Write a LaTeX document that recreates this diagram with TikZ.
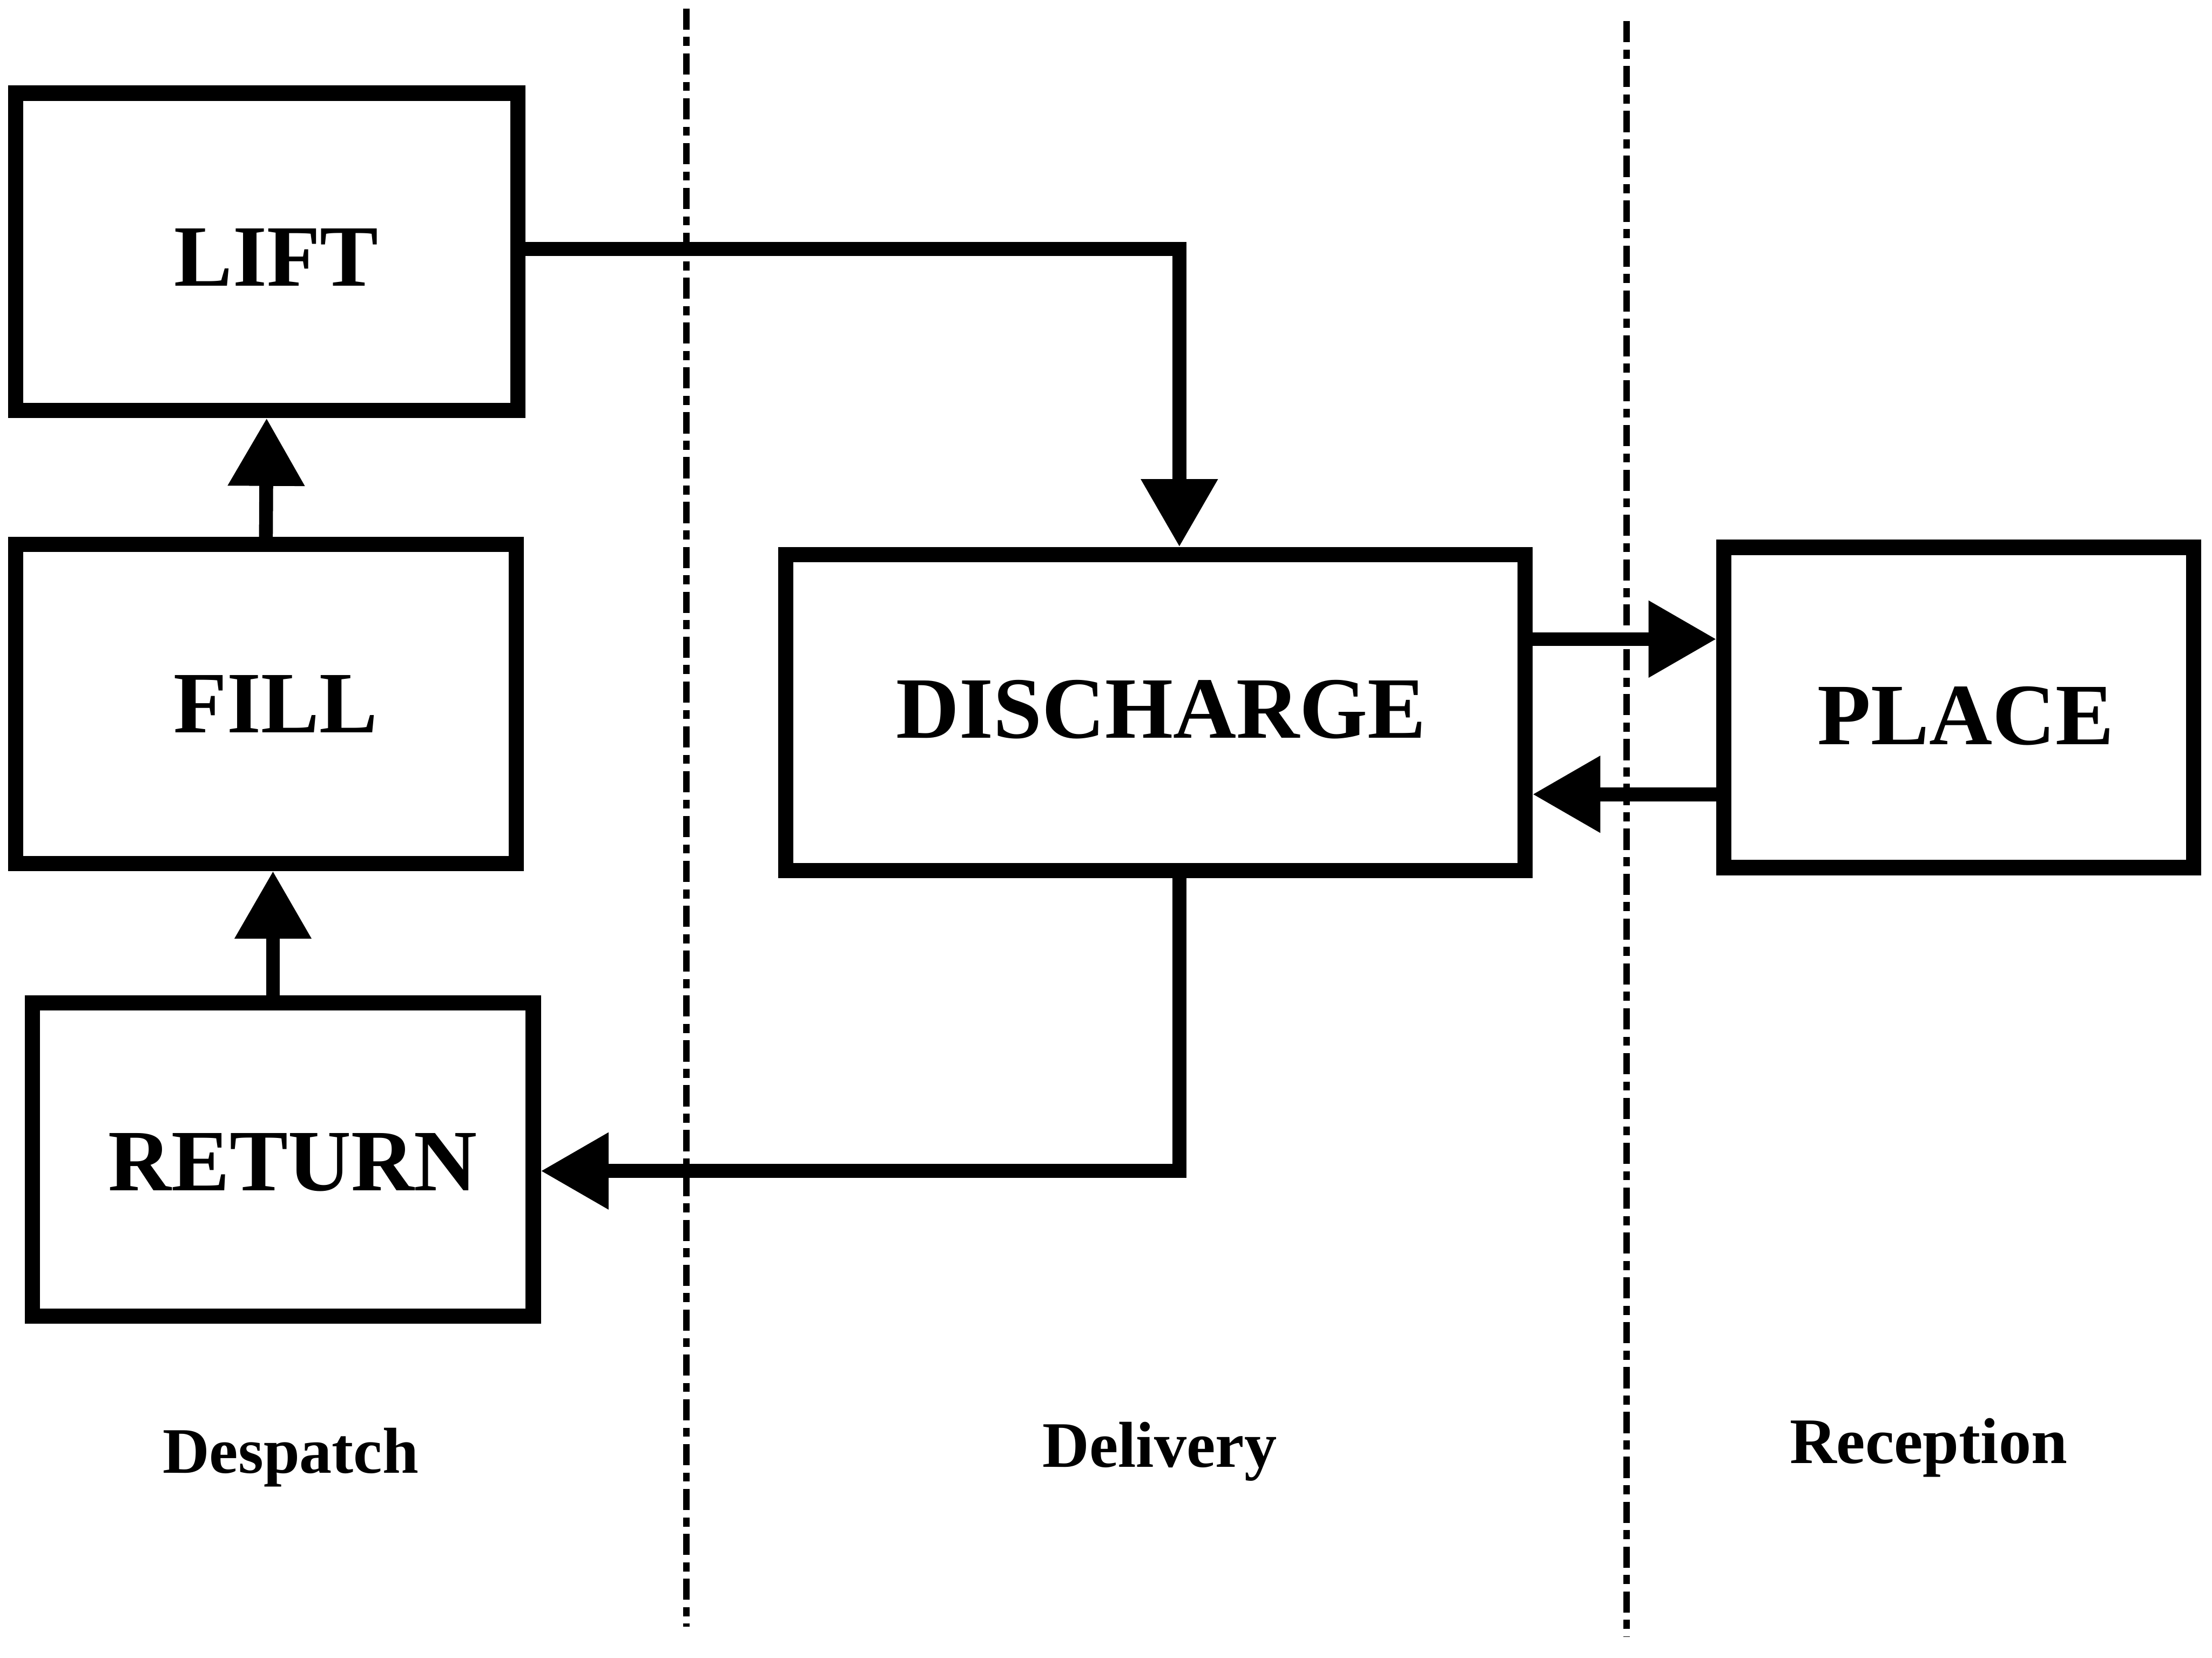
\documentclass[tikz,border=0pt]{standalone}
\usepackage{fontspec}
\setmainfont{Liberation Serif}
\usetikzlibrary{arrows.meta,calc}
\begin{document}
\begin{tikzpicture}[x=0.5pt,y=-0.5pt,
  stage/.style={draw,line width=5.4pt,inner sep=0pt,rectangle},
  stagetext/.style={inner sep=0pt,font=\fontsize{31}{37}\selectfont\bfseries},
  zone/.style={font=\fontsize{23}{28}\selectfont\bfseries},
  arr/.style={line width=4.9pt,-{Triangle[length=24pt,width=26pt]}},
  divider/.style={line width=2.2pt,dash pattern=on 7.5pt off 2.6pt on 3.2pt off 2.6pt}]
  \useasboundingbox (0,0) rectangle (1568,1175);

  % process stages
  \node[stage,minimum width=178pt,minimum height=112.5pt] (lift) at (189,178.5) {};
  \node[stage,minimum width=177.5pt,minimum height=113pt] (fill) at (188.5,499) {};
  \node[stage,minimum width=177.5pt,minimum height=111pt] (return) at (200.5,822) {};
  \node[stage,minimum width=262pt,minimum height=112pt] (discharge) at (819,505) {};
  \node[stage,minimum width=166.5pt,minimum height=113.5pt] (place) at (1388.5,501.5) {};

  % stage names, set a little right of and below each box centre
  \node[stagetext] (lift-t) at ([shift={(7,4)}]lift.center) {LIFT};
  \node[stagetext] (fill-t) at ([shift={(7,0)}]fill.center) {FILL};
  \node[stagetext] (return-t) at ([shift={(7,2)}]return.center) {RETURN};
  \node[stagetext] (discharge-t) at ([shift={(4,-2)}]discharge.center) {DISCHARGE};
  \node[stagetext] (place-t) at ([shift={(5,6)}]place.center) {PLACE};

  % zone boundaries
  \draw[divider] (486.5,6) -- (486.5,1153);
  \draw[divider] (1153,15) -- (1153,1160);

  % zone names
  \node[zone] (despatch) at (206,1033) {Despatch};
  \node[zone] (delivery) at (822,1029) {Delivery};
  \node[zone] (reception) at (1367,1026) {Reception};

  % flow
  \draw[arr] (fill.north) -- (lift.south);
  \draw[arr] ([xshift=-3.5pt]return.north) -- ([xshift=-3.5pt]return.north |- fill.south);
  \draw[arr] ([yshift=1pt]lift.east) -| ([xshift=8.5pt]discharge.north);
  \draw[arr] ([xshift=8.5pt]discharge.south) |- ([yshift=-4pt]return.east);
  \draw[arr] ([yshift=26pt]discharge.east) -- ([yshift=26pt]discharge.east -| place.west);
  \draw[arr] ([yshift=-29pt]discharge.east -| place.west) -- ([yshift=-29pt]discharge.east);
\end{tikzpicture}
\end{document}
